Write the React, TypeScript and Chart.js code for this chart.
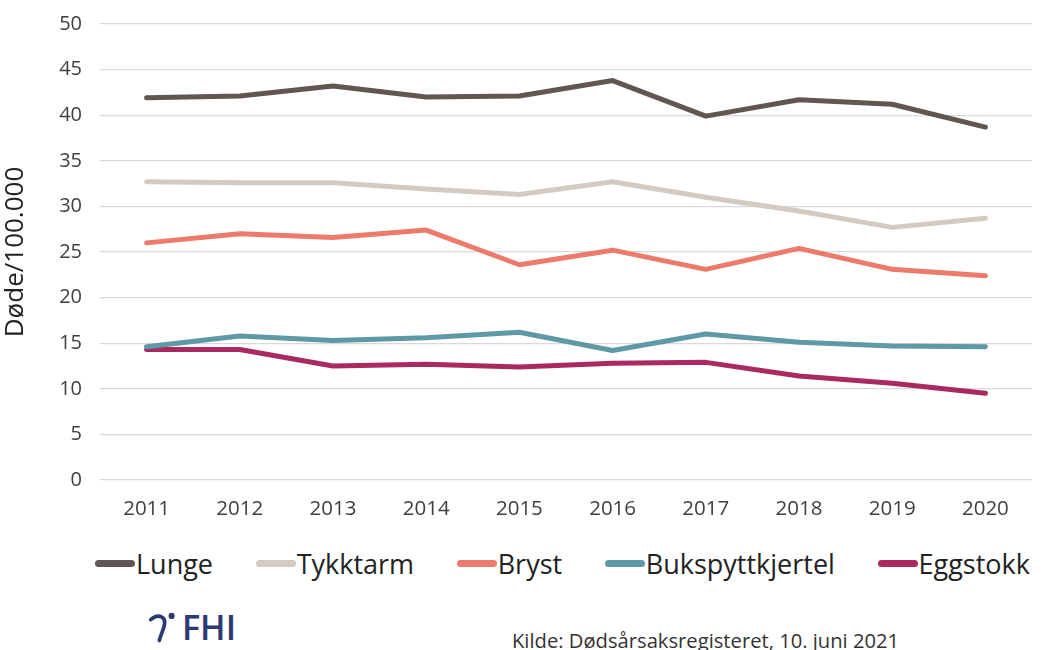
import React, { useEffect, useRef } from "react";
import { Chart, registerables } from "chart.js";

Chart.register(...registerables);

const years = ["2011", "2012", "2013", "2014", "2015", "2016", "2017", "2018", "2019", "2020"];
const lunge = [41.9, 42.1, 43.2, 42.0, 42.1, 43.8, 39.9, 41.7, 41.2, 38.7];
const tykktarm = [32.7, 32.6, 32.6, 31.9, 31.3, 32.7, 31.0, 29.5, 27.7, 28.7];
const bryst = [26.0, 27.0, 26.6, 27.4, 23.6, 25.2, 23.1, 25.4, 23.1, 22.4];
const bukspytt = [14.6, 15.8, 15.3, 15.6, 16.2, 14.2, 16.0, 15.1, 14.7, 14.6];
const eggstokk = [14.3, 14.3, 12.5, 12.7, 12.4, 12.8, 12.9, 11.4, 10.6, 9.5];

const seriesNames = ["Lunge", "Tykktarm", "Bryst", "Bukspyttkjertel", "Eggstokk"];
const seriesColors = ["#615651", "#d3cbc2", "#ec7b6b", "#5f99a6", "#a82a60"];

const FONT = "'Open Sans', Lato, sans-serif";

export default function App() {
  const ref = useRef<HTMLCanvasElement | null>(null);

  useEffect(() => {
    document.body.style.margin = "0";
    const values = [lunge, tykktarm, bryst, bukspytt, eggstokk];
    const chart = new Chart(ref.current!, {
      type: "line",
      data: {
        labels: years,
        datasets: values.map((v, i) => ({
          label: seriesNames[i],
          data: v,
          borderColor: seriesColors[i],
          backgroundColor: seriesColors[i],
          borderWidth: 5,
          pointRadius: 0,
          tension: 0,
          borderCapStyle: "round" as const,
          borderJoinStyle: "round" as const,
        })),
      },
      options: {
        responsive: false,
        animation: false,
        layout: { padding: { top: 8, right: 14, left: 0, bottom: 0 } },
        plugins: {
          tooltip: { enabled: false },
          legend: { display: false },
        },
        scales: {
          x: {
            offset: true,
            grid: { display: false, drawTicks: false },
            border: { display: false },
            ticks: { color: "#404040", font: { family: FONT, size: 20.5 }, padding: 17, maxRotation: 0 },
            afterFit: (s: any) => { s.height = 60; },
          },
          y: {
            min: 0,
            max: 50,
            ticks: { stepSize: 5, color: "#404040", font: { family: FONT, size: 20 }, padding: 18 },
            grid: { color: "#d9d9d9", lineWidth: 1.3, drawTicks: false },
            border: { display: false },
            title: { display: true, text: "Døde/100.000", color: "#222", font: { family: FONT, size: 26 }, padding: 0 },
            afterFit: (s: any) => { s.width = 100; },
          },
        },
      },
    });
    return () => chart.destroy();
  }, []);

  return (
    <div style={{ position: "relative", width: 1046, height: 650, background: "#fff", overflow: "hidden" }}>
      <canvas ref={ref} width={1046} height={546} style={{ display: "block", position: "absolute", left: 0, top: -6 }} />
      <div style={{ position: "absolute", left: 95, top: 545, width: 935, display: "flex", alignItems: "center", justifyContent: "space-between", fontFamily: FONT, fontSize: 27, color: "#222", whiteSpace: "nowrap" }}>
        {seriesNames.map((n, i) => (
          <div key={n} style={{ display: "flex", alignItems: "center" }}>
            <span style={{ display: "inline-block", width: 40, height: 7, borderRadius: 4, background: seriesColors[i], marginRight: 1 }} />
            <span>{n}</span>
          </div>
        ))}
      </div>
      <div style={{ position: "absolute", left: 148, top: 604, display: "flex", alignItems: "center", color: "#2b3a70", fontFamily: FONT, fontSize: 34, fontWeight: 600 }}>
        <svg width="30" height="32" viewBox="0 0 24 26" style={{ marginRight: 4 }}>
          <path d="M2 7 C8 2, 15 4, 13 12 C12 16, 10 20, 9 24" stroke="#2b3a70" strokeWidth="3" fill="none" strokeLinecap="round" />
          <circle cx="19" cy="4" r="2.5" fill="#2b3a70" />
        </svg>
        <span>FHI</span>
      </div>
      <div style={{ position: "absolute", left: 512, top: 626, color: "#333", fontFamily: FONT, fontSize: 20.2 }}>
        Kilde: Dødsårsaksregisteret, 10. juni 2021
      </div>
    </div>
  );
}
